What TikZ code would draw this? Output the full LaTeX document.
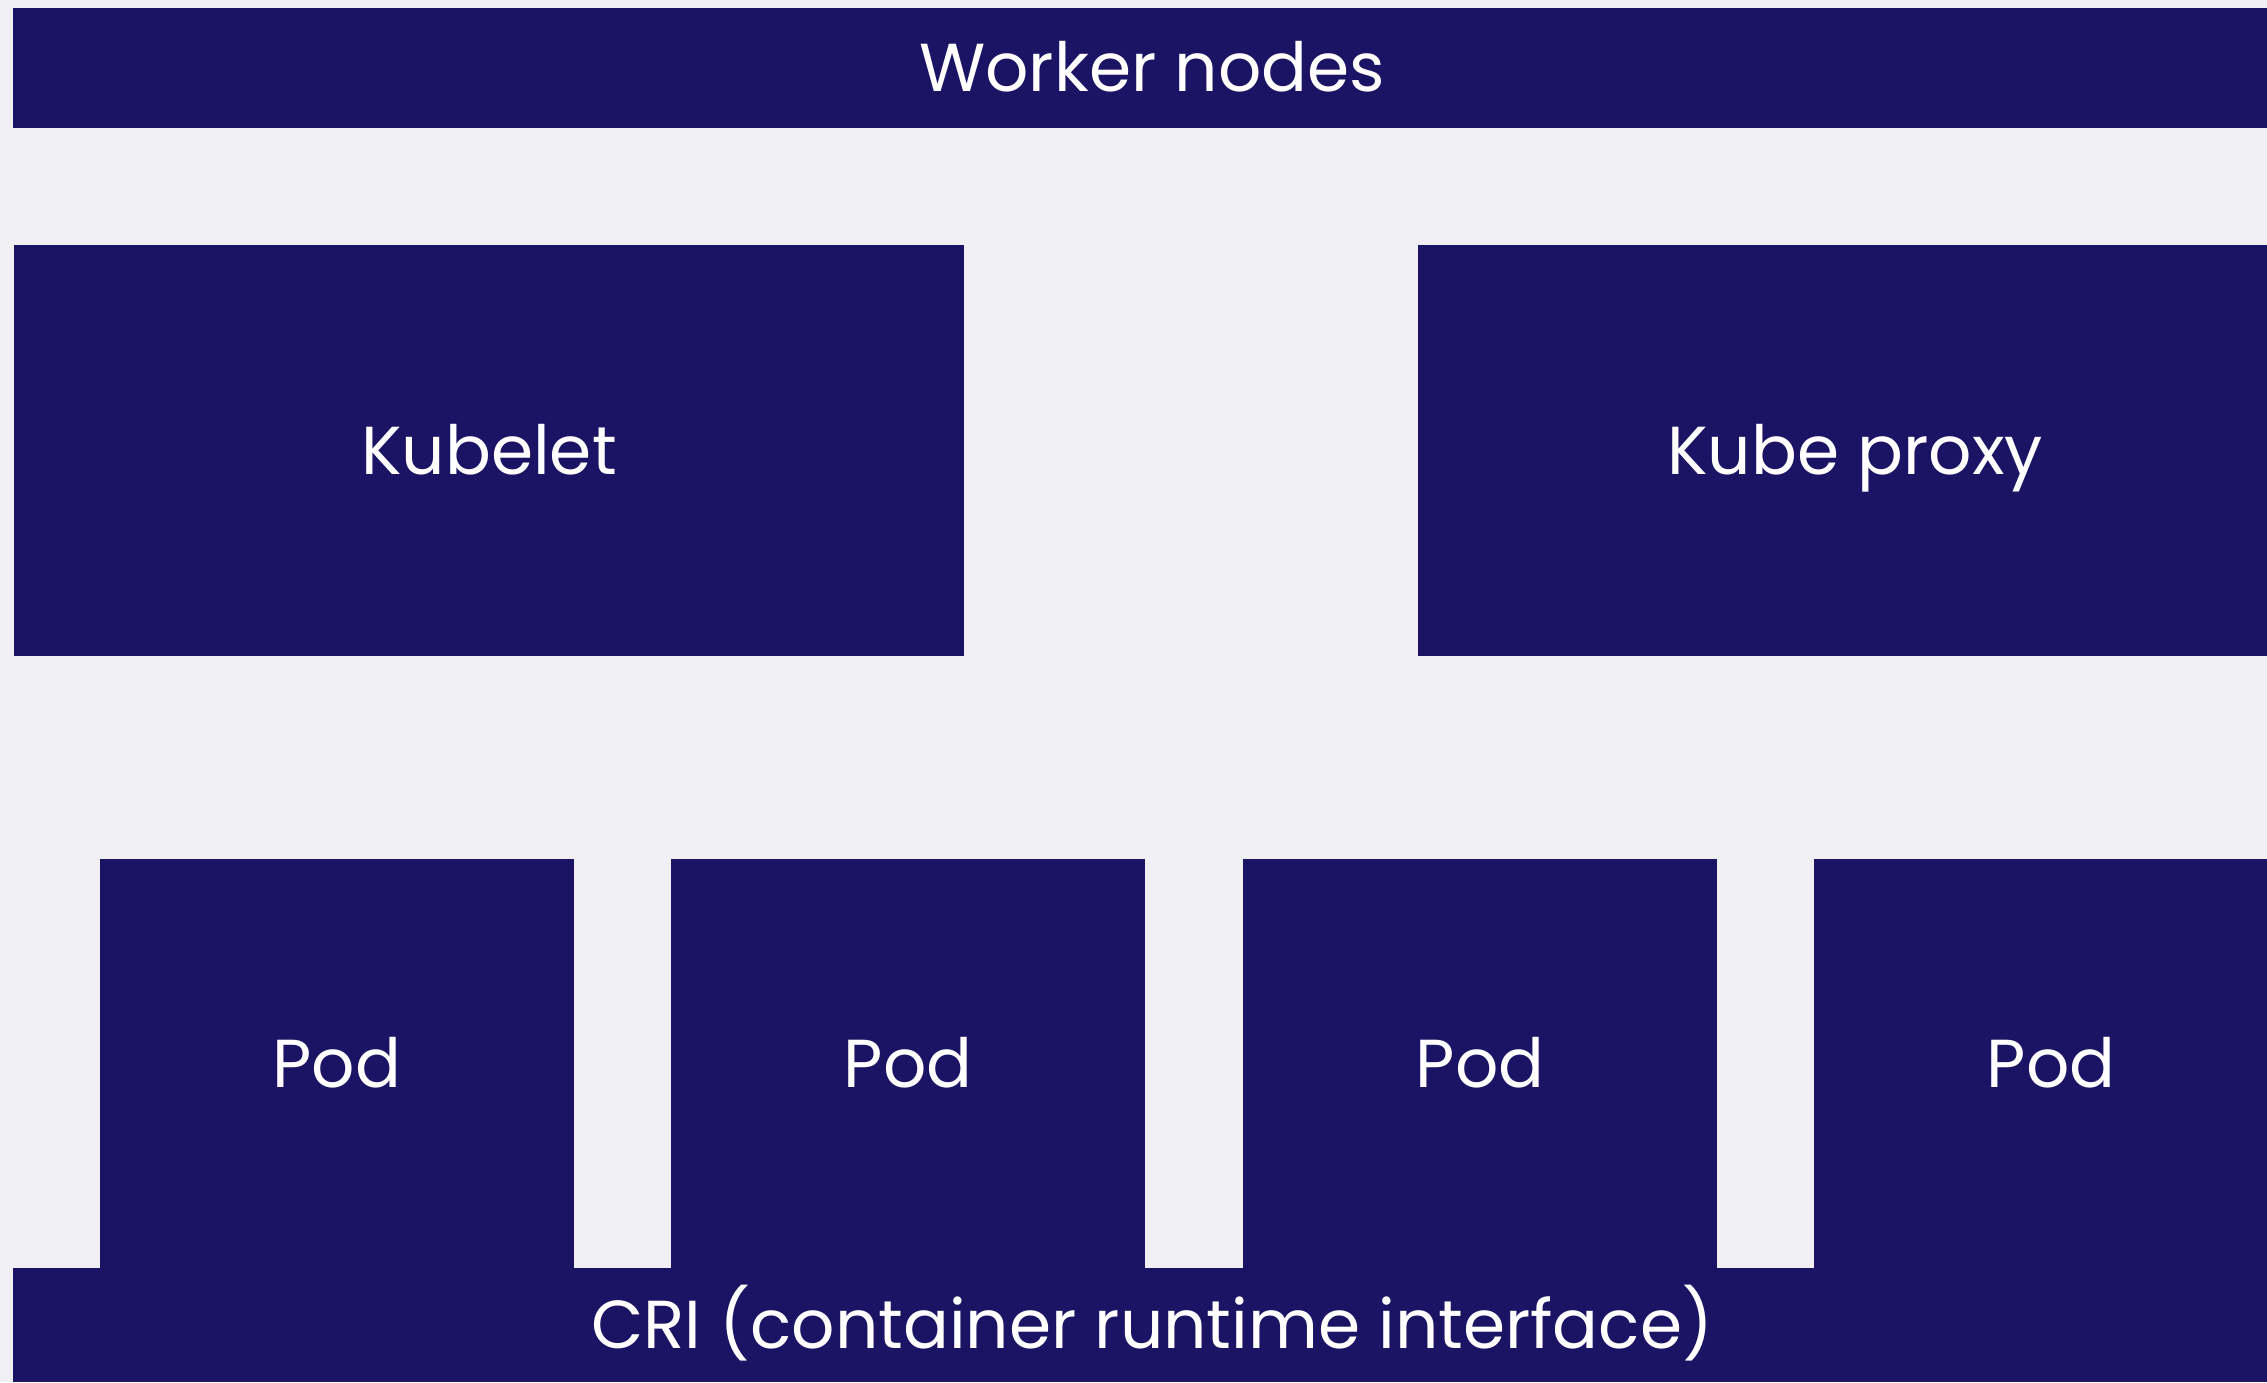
\documentclass[tikz,border=0pt]{standalone}
\usepackage{fontspec}
\setmainfont{Poppins}
\usepackage{tikz}

\definecolor{navy}{RGB}{27,20,100}
\definecolor{paper}{RGB}{240,240,244}

\begin{document}
\begin{tikzpicture}[x=0.01cm,y=-0.01cm,
	block/.style={fill=navy,text=white,inner sep=0pt,
		text height=13.5pt,text depth=0pt,
		font=\fontsize{19.3}{23}\selectfont},
	bar/.style={block,minimum width=22.76cm,minimum height=1.2cm},
	big/.style={block,minimum width=9.5cm,minimum height=4.11cm},
	pod/.style={block,minimum width=4.74cm,minimum height=4.09cm}]
	\fill[paper] (0,0) rectangle (2267,1382);
	\useasboundingbox (0,0) rectangle (2267,1382);

	\node[bar] (workers) at (1152,68) {Worker nodes};

	\node[big] (kubelet) at (489,450.5) {Kubelet};
	\node[big,minimum width=8.74cm] (proxy) at (1855,450.5) {Kube proxy};

	\node[pod] (pod1) at (337,1063.5) {Pod};
	\node[pod] (pod2) at (908,1063.5) {Pod};
	\node[pod] (pod3) at (1480,1063.5) {Pod};
	\node[pod] (pod4) at (2051,1063.5) {Pod};

	\node[bar,minimum height=1.14cm] (cri) at (1152,1325) {CRI (container runtime interface)};
\end{tikzpicture}
\end{document}
